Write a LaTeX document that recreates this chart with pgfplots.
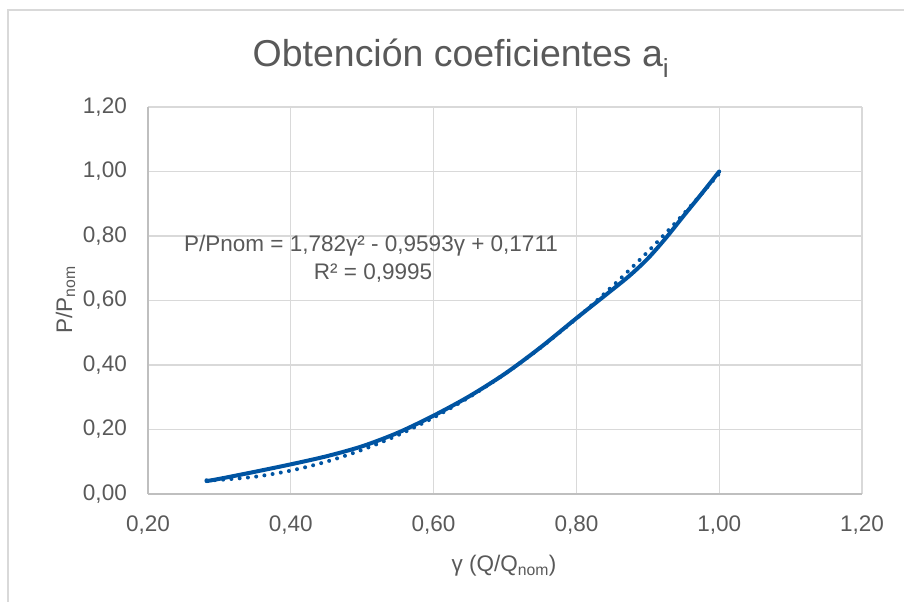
\documentclass[border=0pt]{standalone}
\usepackage{fontspec}
\setmainfont{Liberation Sans}
\usepackage{pgfplots}
\pgfplotsset{compat=1.18}
\definecolor{txt}{HTML}{595959}
\definecolor{gridc}{HTML}{D9D9D9}
\definecolor{axc}{HTML}{BFBFBF}
\definecolor{ser}{RGB}{0,84,162}
\newcommand{\tickfont}{\fontsize{22.6}{27.1}\selectfont}
\newcommand{\titlefont}{\fontsize{37.6}{45}\selectfont}
\begin{document}
\begin{tikzpicture}[x=1bp,y=1bp]
\useasboundingbox (0,0) rectangle (904,602);
\draw[gridc, line width=1.3bp] (8,0) -- (8,592) -- (904,592);
\begin{axis}[
  at={(148bp,108bp)}, anchor=south west,
  scale only axis, width=714bp, height=387bp,
  xmin=0.2, xmax=1.2, ymin=0, ymax=1.2,
  xtick={0.2,0.4,0.6,0.8,1.0,1.2},
  ytick={0,0.2,0.4,0.6,0.8,1.0,1.2},
  axis x line*=bottom, axis y line*=left,
  axis line style={axc, line width=1.3bp, -},
  grid=major, major grid style={gridc, line width=1.3bp},
  major tick length=0pt, tick style={draw=none},
  ticklabel style={font=\tickfont, text=txt, inner sep=0pt},
  xticklabel style={anchor=north, yshift=-22bp},
  yticklabel style={anchor=east, xshift=-21bp},
  /pgf/number format/fixed,
  /pgf/number format/fixed zerofill,
  /pgf/number format/precision=2,
  /pgf/number format/use comma,
  /pgf/number format/assume math mode=true,
]
\addplot[ser, line width=4bp, smooth, line join=round, line cap=round] coordinates {
(0.282,0.040) (0.30,0.047) (0.35,0.069) (0.40,0.092) (0.45,0.117)
(0.50,0.148) (0.55,0.190) (0.60,0.243) (0.65,0.303) (0.70,0.373)
(0.75,0.455) (0.80,0.545) (0.85,0.633) (0.875,0.678) (0.90,0.730)
(0.925,0.793) (0.95,0.862) (0.975,0.930) (1.00,1.000)
};
\addplot[ser, line width=4bp, smooth, line cap=round, dash pattern=on 0bp off 8.3bp] coordinates {
(0.282,0.0426) (0.30,0.0437) (0.35,0.0536) (0.40,0.0725) (0.45,0.1003)
(0.50,0.1370) (0.55,0.1825) (0.60,0.2370) (0.65,0.3005) (0.70,0.3728)
(0.75,0.4540) (0.80,0.5441) (0.85,0.6432) (0.90,0.7512) (0.95,0.8680) (1.00,0.9938)
};
\end{axis}
\node[anchor=base, text=txt, font=\titlefont] at (461,535) {Obtención coeficientes a\textsubscript{i}};
\node[anchor=base, rotate=90, text=txt, font=\tickfont] at (72,302) {P/P\textsubscript{nom}};
\node[anchor=base, text=txt, font=\tickfont] at (504,30) {γ (Q/Q\textsubscript{nom})};
\node[anchor=base, text=txt, font=\tickfont] at (371,350.3) {P/Pnom = 1,782γ² - 0,9593γ + 0,1711};
\node[anchor=base, text=txt, font=\tickfont] at (373,322.7) {R² = 0,9995};
\end{tikzpicture}
\end{document}
